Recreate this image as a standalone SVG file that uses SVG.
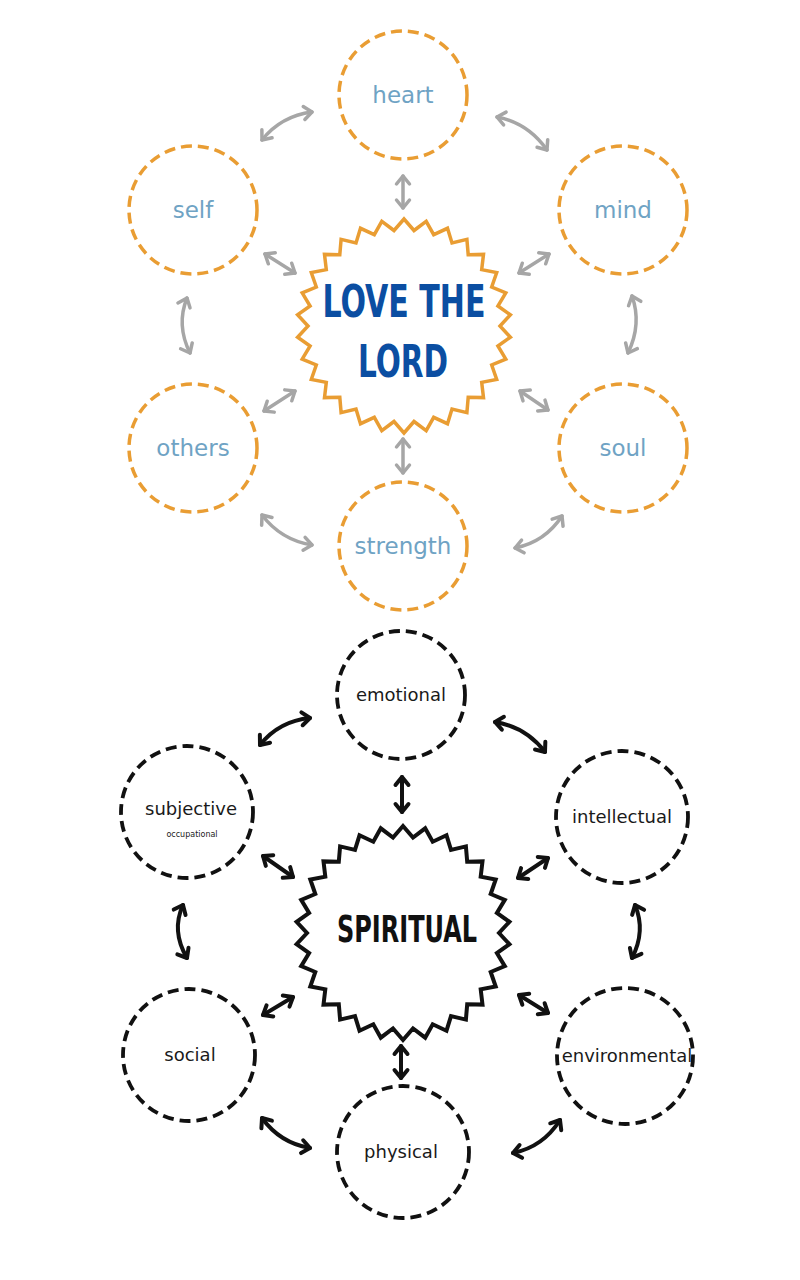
<svg xmlns="http://www.w3.org/2000/svg" width="800" height="1280" viewBox="0 0 800 1280">
<style>
.bg{fill:#ffffff}
.oc{fill:none;stroke:#e99d33;stroke-width:3.5;stroke-dasharray:11 6}
.bc{fill:none;stroke:#111;stroke-width:3.8;stroke-dasharray:11 6}
.tl{font-family:"DejaVu Sans","Open Sans",sans-serif;font-size:23px;fill:#6fa3c4;text-anchor:middle}
.bl{font-family:"DejaVu Sans","Open Sans",sans-serif;font-size:18px;fill:#1a1a1a;text-anchor:middle}
.sm{font-family:"DejaVu Sans","Open Sans",sans-serif;font-size:8px;fill:#1a1a1a;text-anchor:middle}
.ga{fill:none;stroke:#a6a6a6;stroke-width:3.5;stroke-linecap:round;marker-start:url(#mg);marker-end:url(#mg)}
.ka{fill:none;stroke:#111;stroke-width:4;stroke-linecap:round;marker-start:url(#mk);marker-end:url(#mk)}
.title{font-family:"DejaVu Sans Condensed","Liberation Sans Narrow","DejaVu Sans",sans-serif;font-weight:bold;text-anchor:middle}
</style>
<defs>
<marker id="mg" viewBox="-12 -10 16 20" markerUnits="userSpaceOnUse" markerWidth="16" markerHeight="20" refX="0" refY="0" orient="auto-start-reverse" overflow="visible">
<path d="M-8,-6.5 L0,0 L-8,6.5" fill="none" stroke="#a6a6a6" stroke-width="3.5" stroke-linecap="round" stroke-linejoin="round"/>
</marker>
<marker id="mk" viewBox="-12 -10 16 20" markerUnits="userSpaceOnUse" markerWidth="16" markerHeight="20" refX="0" refY="0" orient="auto-start-reverse" overflow="visible">
<path d="M-8,-6.5 L0,0 L-8,6.5" fill="none" stroke="#111" stroke-width="4" stroke-linecap="round" stroke-linejoin="round"/>
</marker>
<polygon id="burst" points="96,0 106.4,11.2 93.9,20 101.8,33.1 87.7,39 92.7,53.5 77.7,56.4 79.5,71.6 64.2,71.3 62.9,86.6 48,83.1 43.5,97.7 29.7,91.3 22.2,104.7 10,95.5 0,107 -10,95.5 -22.2,104.7 -29.7,91.3 -43.5,97.7 -48,83.1 -62.9,86.6 -64.2,71.3 -79.5,71.6 -77.7,56.4 -92.7,53.5 -87.7,39 -101.8,33.1 -93.9,20 -106.4,11.2 -96,0 -106.4,-11.2 -93.9,-20 -101.8,-33.1 -87.7,-39 -92.7,-53.5 -77.7,-56.4 -79.5,-71.6 -64.2,-71.3 -62.9,-86.6 -48,-83.1 -43.5,-97.7 -29.7,-91.3 -22.2,-104.7 -10,-95.5 0,-107 10,-95.5 22.2,-104.7 29.7,-91.3 43.5,-97.7 48,-83.1 62.9,-86.6 64.2,-71.3 79.5,-71.6 77.7,-56.4 92.7,-53.5 87.7,-39 101.8,-33.1 93.9,-20 106.4,-11.2"/>
</defs>
<rect class="bg" x="0" y="0" width="800" height="1280"/>

<g id="connectors-top">
<path class="ga" d="M262,140 Q281,116 312,112"/>
<path class="ga" d="M497,117 Q528,123 547,150"/>
<path class="ga" d="M403,176 L403,208"/>
<path class="ga" d="M265,254 L295,273"/>
<path class="ga" d="M549,254 L519,273"/>
<path class="ga" d="M187,298 Q176,325 190,353"/>
<path class="ga" d="M632,296 Q642,324 628,353"/>
<path class="ga" d="M264,411 L295,391"/>
<path class="ga" d="M520,391 L548,410"/>
<path class="ga" d="M403,439 L403,473"/>
<path class="ga" d="M262,515 Q281,540 312,545"/>
<path class="ga" d="M515,548 Q545,542 562,516"/>
</g>

<g id="connectors-bottom">
<path class="ka" d="M260,745 Q279,721 310,718"/>
<path class="ka" d="M495,722 Q526,727 545,752"/>
<path class="ka" d="M402,777 L402,812"/>
<path class="ka" d="M263,856 L293,877"/>
<path class="ka" d="M548,858 L518,878"/>
<path class="ka" d="M183,905 Q171,931 187,958"/>
<path class="ka" d="M635,905 Q646,931 632,958"/>
<path class="ka" d="M263,1015 L293,997"/>
<path class="ka" d="M519,995 L548,1013"/>
<path class="ka" d="M401,1046 L401,1078"/>
<path class="ka" d="M262,1118 Q280,1143 310,1148"/>
<path class="ka" d="M513,1153 Q543,1147 560,1120"/>
</g>

<g id="love-the-lord">
<use href="#burst" transform="translate(404,326)" fill="#ffffff" stroke="#e99d33" stroke-width="3.5" stroke-linejoin="miter"/>
<text class="title" x="404" y="317" font-size="44" fill="#0b4ea2" textLength="163" lengthAdjust="spacingAndGlyphs">LOVE THE</text>
<text class="title" x="403" y="377" font-size="44" fill="#0b4ea2" textLength="90" lengthAdjust="spacingAndGlyphs">LORD</text>
</g>
<g id="heart"><circle class="oc" cx="403" cy="95" r="64"/><text class="tl" x="403" y="103">heart</text></g>
<g id="self"><circle class="oc" cx="193" cy="210" r="64"/><text class="tl" x="193" y="218">self</text></g>
<g id="mind"><circle class="oc" cx="623" cy="210" r="64"/><text class="tl" x="623" y="218">mind</text></g>
<g id="others"><circle class="oc" cx="193" cy="448" r="64"/><text class="tl" x="193" y="456">others</text></g>
<g id="soul"><circle class="oc" cx="623" cy="448" r="64"/><text class="tl" x="623" y="456">soul</text></g>
<g id="strength"><circle class="oc" cx="403" cy="546" r="64"/><text class="tl" x="403" y="554">strength</text></g>

<g id="spiritual">
<use href="#burst" transform="translate(403,933)" fill="#ffffff" stroke="#111" stroke-width="4" stroke-linejoin="miter"/>
<text class="title" x="407" y="942" font-size="37" fill="#111" textLength="140" lengthAdjust="spacingAndGlyphs">SPIRITUAL</text>
</g>
<g id="emotional"><circle class="bc" cx="401" cy="695" r="64"/><text class="bl" x="401" y="701">emotional</text></g>
<g id="subjective"><circle class="bc" cx="187" cy="812" r="66"/><text class="bl" x="191" y="815">subjective</text><text class="sm" x="192" y="837">occupational</text></g>
<g id="intellectual"><circle class="bc" cx="622" cy="817" r="66"/><text class="bl" x="622" y="823">intellectual</text></g>
<g id="social"><circle class="bc" cx="189" cy="1055" r="66"/><text class="bl" x="190" y="1061">social</text></g>
<g id="environmental"><circle class="bc" cx="625" cy="1056" r="68"/><text class="bl" x="627" y="1062">environmental</text></g>
<g id="physical"><circle class="bc" cx="403" cy="1152" r="66"/><text class="bl" x="401" y="1158">physical</text></g>
</svg>
